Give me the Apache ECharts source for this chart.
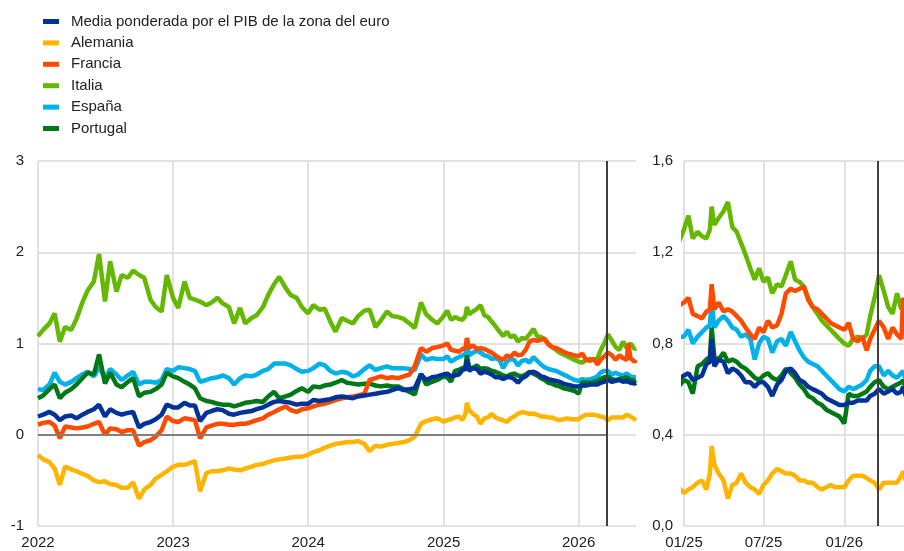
<!DOCTYPE html>
<html>
<head>
<meta charset="utf-8">
<script src="https://cdn.jsdelivr.net/npm/echarts@6/dist/echarts.min.js"></script>
<style>
  html, body { margin: 0; padding: 0; background: #fff; }
  #chart { width: 904px; height: 551px; }
</style>
</head>
<body>
<div id="chart"></div>
<script>
// fechas de observación
var dates = [
  '2022-01-01','2022-01-15','2022-02-01','2022-02-15','2022-03-01','2022-03-15','2022-04-01','2022-04-15','2022-05-01','2022-05-15','2022-06-01','2022-06-15',
  '2022-07-01','2022-07-15','2022-08-01','2022-08-15','2022-09-01','2022-09-15','2022-10-01','2022-10-15','2022-11-01','2022-11-15','2022-12-01','2022-12-15',
  '2023-01-01','2023-01-15','2023-02-01','2023-02-15','2023-03-01','2023-03-15','2023-04-01','2023-04-15','2023-05-01','2023-05-15','2023-06-01','2023-06-15',
  '2023-07-01','2023-07-15','2023-08-01','2023-08-15','2023-09-01','2023-09-15','2023-10-01','2023-10-15','2023-11-01','2023-11-15','2023-12-01','2023-12-15',
  '2024-01-01','2024-01-15','2024-02-01','2024-02-15','2024-03-01','2024-03-15','2024-04-01','2024-04-15','2024-05-01','2024-05-15','2024-06-01','2024-06-15',
  '2024-07-01','2024-07-15','2024-08-01','2024-08-15','2024-09-01','2024-09-15','2024-10-01','2024-10-15','2024-11-01','2024-11-15','2024-12-01','2024-12-15',
  '2025-01-01','2025-01-11','2025-01-21','2025-02-01','2025-02-11','2025-02-21','2025-03-01','2025-03-05','2025-03-11','2025-03-21',
  '2025-04-01','2025-04-11','2025-04-21','2025-05-01','2025-05-11','2025-05-21','2025-06-01','2025-06-11','2025-06-21',
  '2025-07-01','2025-07-11','2025-07-21','2025-08-01','2025-08-11','2025-08-21','2025-09-01','2025-09-11','2025-09-21',
  '2025-10-01','2025-10-11','2025-10-21','2025-11-01','2025-11-11','2025-11-21','2025-12-01','2025-12-11','2025-12-21',
  '2026-01-01','2026-01-11','2026-01-21','2026-02-01','2026-02-11','2026-02-21','2026-03-01','2026-03-11','2026-03-21',
  '2026-04-01','2026-04-11','2026-04-21','2026-05-01','2026-05-11','2026-05-15','2026-05-21','2026-06-01','2026-06-05'
];

var media = [
  0.20,0.22,0.25,0.22,0.16,0.20,0.21,0.18,0.22,0.25,0.28,0.33,0.20,0.28,0.24,0.22,0.24,0.25,0.08,0.12,0.14,0.17,0.22,0.33,
  0.30,0.30,0.35,0.32,0.32,0.15,0.24,0.26,0.28,0.27,0.23,0.22,0.24,0.25,0.26,0.28,0.30,0.33,0.36,0.37,0.36,0.35,0.33,0.34,
  0.34,0.38,0.37,0.38,0.39,0.41,0.42,0.41,0.40,0.42,0.43,0.44,0.45,0.46,0.47,0.49,0.51,0.49,0.50,0.51,0.66,0.60,0.63,0.64,
  0.66,0.67,0.64,0.65,0.66,0.71,0.72,0.82,0.70,0.73,0.72,0.67,0.69,0.68,0.66,0.63,0.63,0.61,0.63,
  0.63,0.61,0.57,0.62,0.64,0.68,0.69,0.67,0.64,0.63,0.61,0.60,0.59,0.58,0.56,0.55,0.54,0.53,
  0.53,0.54,0.54,0.55,0.55,0.55,0.57,0.58,0.60,0.58,0.59,0.60,0.58,0.59,0.61,0.57,0.56,0.57
];
var alemania = [
  -0.22,-0.27,-0.30,-0.37,-0.55,-0.35,-0.38,-0.40,-0.43,-0.45,-0.50,-0.52,-0.51,-0.54,-0.55,-0.58,-0.58,-0.52,-0.70,-0.60,-0.55,-0.48,-0.44,-0.40,
  -0.35,-0.33,-0.33,-0.31,-0.29,-0.62,-0.42,-0.40,-0.40,-0.39,-0.37,-0.38,-0.39,-0.37,-0.35,-0.33,-0.32,-0.30,-0.28,-0.27,-0.26,-0.25,-0.24,-0.24,
  -0.22,-0.19,-0.17,-0.14,-0.12,-0.10,-0.09,-0.08,-0.08,-0.07,-0.10,-0.18,-0.12,-0.13,-0.11,-0.10,-0.09,-0.08,-0.06,-0.02,0.12,0.15,0.17,0.18,
  0.145,0.16,0.17,0.19,0.20,0.16,0.23,0.35,0.27,0.23,0.20,0.12,0.18,0.19,0.23,0.19,0.17,0.16,0.14,
  0.18,0.20,0.23,0.25,0.24,0.23,0.23,0.22,0.20,0.20,0.19,0.19,0.17,0.16,0.17,0.18,0.17,0.17,
  0.17,0.20,0.22,0.22,0.22,0.21,0.20,0.19,0.16,0.19,0.19,0.19,0.19,0.22,0.24,0.20,0.17,0.16
];
var francia = [
  0.11,0.13,0.14,0.10,-0.04,0.09,0.08,0.07,0.08,0.09,0.12,0.14,0.00,0.07,0.06,0.03,0.05,0.05,-0.12,-0.08,-0.06,-0.02,0.05,0.20,
  0.15,0.14,0.18,0.17,0.16,-0.04,0.08,0.10,0.12,0.12,0.11,0.11,0.12,0.12,0.14,0.16,0.18,0.22,0.25,0.28,0.31,0.27,0.25,0.28,
  0.29,0.31,0.33,0.34,0.36,0.38,0.40,0.41,0.42,0.43,0.45,0.60,0.62,0.64,0.62,0.63,0.62,0.64,0.66,0.75,0.95,0.91,0.95,0.96,
  0.98,1.00,0.93,0.92,0.91,0.94,0.95,1.06,0.95,0.98,0.94,0.95,0.94,0.92,0.90,0.87,0.84,0.82,0.87,
  0.85,0.90,0.87,0.88,0.93,1.02,1.04,1.03,1.04,1.05,0.99,0.96,0.95,0.93,0.91,0.89,0.88,0.87,
  0.86,0.89,0.82,0.81,0.83,0.77,0.82,0.86,0.90,0.87,0.82,0.87,0.84,0.82,1.00,0.84,0.80,0.82
];
var italia = [
  1.08,1.15,1.22,1.33,1.02,1.18,1.15,1.27,1.45,1.58,1.68,1.98,1.46,1.90,1.57,1.75,1.72,1.80,1.75,1.72,1.48,1.40,1.35,1.75,
  1.50,1.39,1.68,1.50,1.48,1.46,1.42,1.45,1.50,1.44,1.40,1.22,1.39,1.22,1.28,1.31,1.40,1.53,1.65,1.73,1.61,1.53,1.50,1.40,
  1.33,1.42,1.37,1.38,1.24,1.13,1.28,1.25,1.22,1.30,1.36,1.37,1.18,1.25,1.35,1.30,1.29,1.27,1.22,1.17,1.45,1.32,1.26,1.22,
  1.30,1.36,1.26,1.29,1.27,1.26,1.30,1.40,1.32,1.35,1.38,1.42,1.31,1.29,1.24,1.19,1.13,1.08,1.13,
  1.07,1.09,1.02,1.06,1.05,1.10,1.16,1.08,1.07,1.05,1.00,0.96,0.93,0.90,0.88,0.86,0.84,0.82,
  0.80,0.79,0.82,0.83,0.82,0.84,0.92,1.00,1.10,1.03,0.96,0.93,1.02,0.95,0.98,1.00,0.94,0.95
];
var espana = [
  0.50,0.49,0.55,0.68,0.58,0.55,0.58,0.62,0.66,0.69,0.64,0.74,0.62,0.72,0.66,0.60,0.65,0.69,0.55,0.58,0.58,0.57,0.60,0.72,
  0.70,0.74,0.73,0.72,0.70,0.58,0.60,0.62,0.63,0.65,0.62,0.55,0.62,0.65,0.64,0.66,0.70,0.72,0.78,0.78,0.78,0.76,0.72,0.69,
  0.70,0.73,0.78,0.76,0.70,0.67,0.69,0.68,0.64,0.66,0.72,0.76,0.71,0.73,0.75,0.73,0.73,0.73,0.72,0.71,0.88,0.82,0.84,0.83,
  0.83,0.86,0.80,0.83,0.85,0.87,0.88,0.99,0.87,0.90,0.92,0.90,0.87,0.86,0.83,0.84,0.82,0.73,0.80,
  0.83,0.82,0.76,0.81,0.82,0.79,0.85,0.81,0.77,0.74,0.72,0.71,0.70,0.68,0.66,0.64,0.62,0.60,
  0.59,0.61,0.60,0.61,0.62,0.64,0.68,0.70,0.70,0.66,0.68,0.66,0.65,0.67,0.68,0.64,0.63,0.63
];
var portugal = [
  0.40,0.43,0.50,0.55,0.40,0.46,0.50,0.55,0.62,0.68,0.66,0.88,0.56,0.68,0.55,0.52,0.58,0.62,0.42,0.46,0.47,0.50,0.55,0.68,
  0.64,0.62,0.58,0.55,0.51,0.40,0.37,0.36,0.34,0.33,0.33,0.31,0.33,0.35,0.36,0.37,0.36,0.42,0.47,0.40,0.42,0.44,0.48,0.51,
  0.47,0.53,0.52,0.54,0.55,0.57,0.60,0.57,0.56,0.55,0.56,0.56,0.54,0.53,0.54,0.53,0.53,0.50,0.47,0.44,0.67,0.55,0.58,0.60,
  0.64,0.63,0.58,0.70,0.71,0.73,0.74,0.87,0.74,0.73,0.76,0.72,0.73,0.72,0.70,0.69,0.67,0.65,0.64,
  0.66,0.67,0.65,0.64,0.66,0.69,0.67,0.65,0.62,0.60,0.57,0.56,0.54,0.53,0.51,0.50,0.49,0.48,
  0.45,0.58,0.57,0.57,0.58,0.59,0.61,0.63,0.64,0.61,0.60,0.61,0.62,0.63,0.64,0.60,0.59,0.60
];

var leftYTicks = [-1, 0, 1, 2, 3];
var rightYTicks = [0, 0.4, 0.8, 1.2, 1.6];
var leftXTicks = ['2022-01-01', '2023-01-01', '2024-01-01', '2025-01-01', '2026-01-01'];
var rightXTicks = ['2025-01-01', '2025-07-01', '2026-01-01'];
var cutDate = '2026-03-18';

var names = ['Media ponderada por el PIB de la zona del euro', 'Alemania', 'Francia', 'Italia', 'España', 'Portugal'];
var colors = {
  'Media ponderada por el PIB de la zona del euro': '#003299',
  'Alemania': '#ffb400',
  'Francia': '#ff4b00',
  'Italia': '#65b800',
  'España': '#00b1ea',
  'Portugal': '#007816'
};
var values = {
  'Media ponderada por el PIB de la zona del euro': media,
  'Alemania': alemania,
  'Francia': francia,
  'Italia': italia,
  'España': espana,
  'Portugal': portugal
};
// orden de dibujo (el último queda encima)
var drawOrder = ['Italia', 'España', 'Portugal', 'Alemania', 'Francia', 'Media ponderada por el PIB de la zona del euro'];

var FONT = '"Liberation Sans", Arial, sans-serif';

function t(d) { return echarts.time.parse(d).getTime(); }
function pairs(arr) {
  return dates.map(function (d, i) { return [t(d), arr[i]]; });
}

var series = [];
[0, 1].forEach(function (g) {
  drawOrder.forEach(function (name, k) {
    var s = {
      name: name,
      type: 'line',
      xAxisIndex: g,
      yAxisIndex: g,
      data: pairs(values[name]),
      showSymbol: false,
      symbol: 'none',
      lineStyle: { width: 4.5, color: colors[name] },
      itemStyle: { color: colors[name] },
      emphasis: { disabled: true },
      animation: false
    };
    if (k === 0 && g === 0) {
      s.markLine = {
        silent: true, symbol: ['none', 'none'], label: { show: false }, animation: false,
        data: [[
          { coord: [t('2022-01-01'), 0], lineStyle: { color: '#7f7f7f', width: 2, type: 'solid' } },
          { coord: [t(cutDate), 0] }
        ]]
      };
    }
    if (k === drawOrder.length - 1) {
      s.markLine = {
        silent: true, symbol: ['none', 'none'], label: { show: false }, animation: false,
        data: [{ xAxis: t(cutDate), lineStyle: { color: '#404040', width: 2, type: 'solid' } }]
      };
    }
    series.push(s);
  });
});

var labelStyle = { fontSize: 15, color: '#222', fontFamily: FONT };
var gridLine = { show: true, lineStyle: { color: '#d9d9d9', width: 1.5 } };

function dateAxis(g, min, max, ticks, fmt) {
  var tv = ticks.map(t);
  return {
    type: 'value', gridIndex: g, min: t(min), max: t(max),
    axisLine: { show: false },
    axisTick: { show: false, customValues: tv },
    splitLine: gridLine,
    axisLabel: Object.assign({
      margin: 9, showMinLabel: true, hideOverlap: false,
      customValues: tv,
      formatter: fmt
    }, labelStyle)
  };
}

var chart = echarts.init(document.getElementById('chart'));
chart.setOption({
  animation: false,
  backgroundColor: '#fff',
  legend: {
    data: names,
    orient: 'vertical',
    left: 38,
    top: 8,
    icon: 'rect',
    itemWidth: 16,
    itemHeight: 5,
    itemGap: 4.4,
    selectedMode: false,
    textStyle: { fontSize: 15, color: '#222', fontFamily: FONT, lineHeight: 14, padding: [3, 0, 0, 7] }
  },
  grid: [
    { left: 38, top: 161, width: 598, height: 365 },
    { left: 684, top: 161, width: 220, height: 365 }
  ],
  xAxis: [
    dateAxis(0, '2022-01-01', '2026-06-05', leftXTicks, function (v) {
      return String(new Date(v).getFullYear());
    }),
    dateAxis(1, '2025-01-01', '2026-05-17', rightXTicks, function (v) {
      var d = new Date(v), m = d.getMonth() + 1;
      return (m < 10 ? '0' : '') + m + '/' + String(d.getFullYear()).slice(2);
    })
  ],
  yAxis: [
    {
      type: 'value', gridIndex: 0,
      min: leftYTicks[0], max: leftYTicks[leftYTicks.length - 1], interval: 1,
      axisLine: { show: false }, axisTick: { show: false },
      splitLine: gridLine,
      axisLabel: Object.assign({ margin: 14 }, labelStyle)
    },
    {
      type: 'value', gridIndex: 1,
      min: rightYTicks[0], max: rightYTicks[rightYTicks.length - 1], interval: 0.4,
      axisLine: { show: false }, axisTick: { show: false },
      splitLine: gridLine,
      axisLabel: Object.assign({
        margin: 11,
        formatter: function (v) { return v.toFixed(1).replace('.', ','); }
      }, labelStyle)
    }
  ],
  series: series
});
</script>
</body>
</html>
